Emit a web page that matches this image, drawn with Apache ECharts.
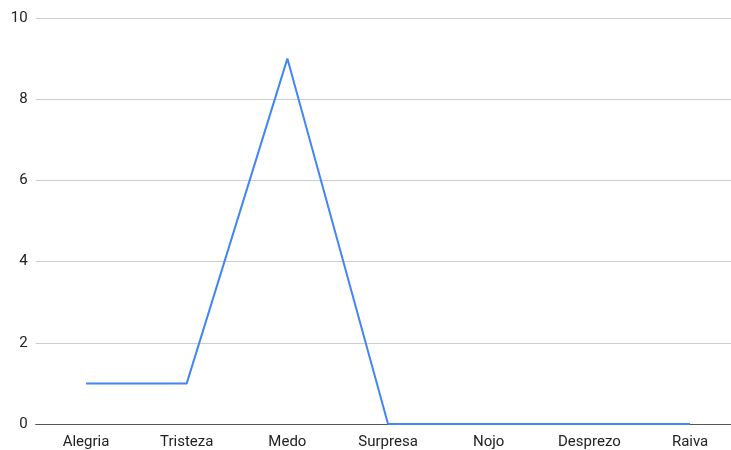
<!DOCTYPE html>
<html><head><meta charset="utf-8">
<script src="https://cdn.jsdelivr.net/npm/echarts@6/dist/echarts.min.js"></script>
<style>html,body{margin:0;padding:0;background:#fff;overflow:hidden}#c{width:741px;height:450px}</style>
</head><body><div id="c"></div>
<script>
const categories = ['Alegria','Tristeza','Medo','Surpresa','Nojo','Desprezo','Raiva'];
const values = [1,1,9,0,0,0,0];
const yTicks = [0,2,4,6,8,10];
const chart = echarts.init(document.getElementById('c'));
chart.setOption({
  animation:false,
  grid:{left:35.7,right:0.6,top:18,bottom:26,containLabel:false},
  xAxis:{type:'category',data:categories,boundaryGap:true,
    axisLine:{lineStyle:{color:'#555',width:1}},axisTick:{show:false},
    axisLabel:{color:'#222',fontFamily:'Roboto',fontSize:15,margin:11}},
  yAxis:{type:'value',min:yTicks[0],max:yTicks[yTicks.length-1],interval:2,
    axisLine:{show:false},axisTick:{show:false},
    splitLine:{lineStyle:{color:'#ccc',width:1}},
    axisLabel:{color:'#222',fontFamily:'Roboto',fontSize:15,margin:8}},
  series:[{type:'line',data:values,symbol:'none',lineStyle:{color:'#4285F4',width:2},itemStyle:{color:'#4285F4'}}]
});
</script></body></html>
